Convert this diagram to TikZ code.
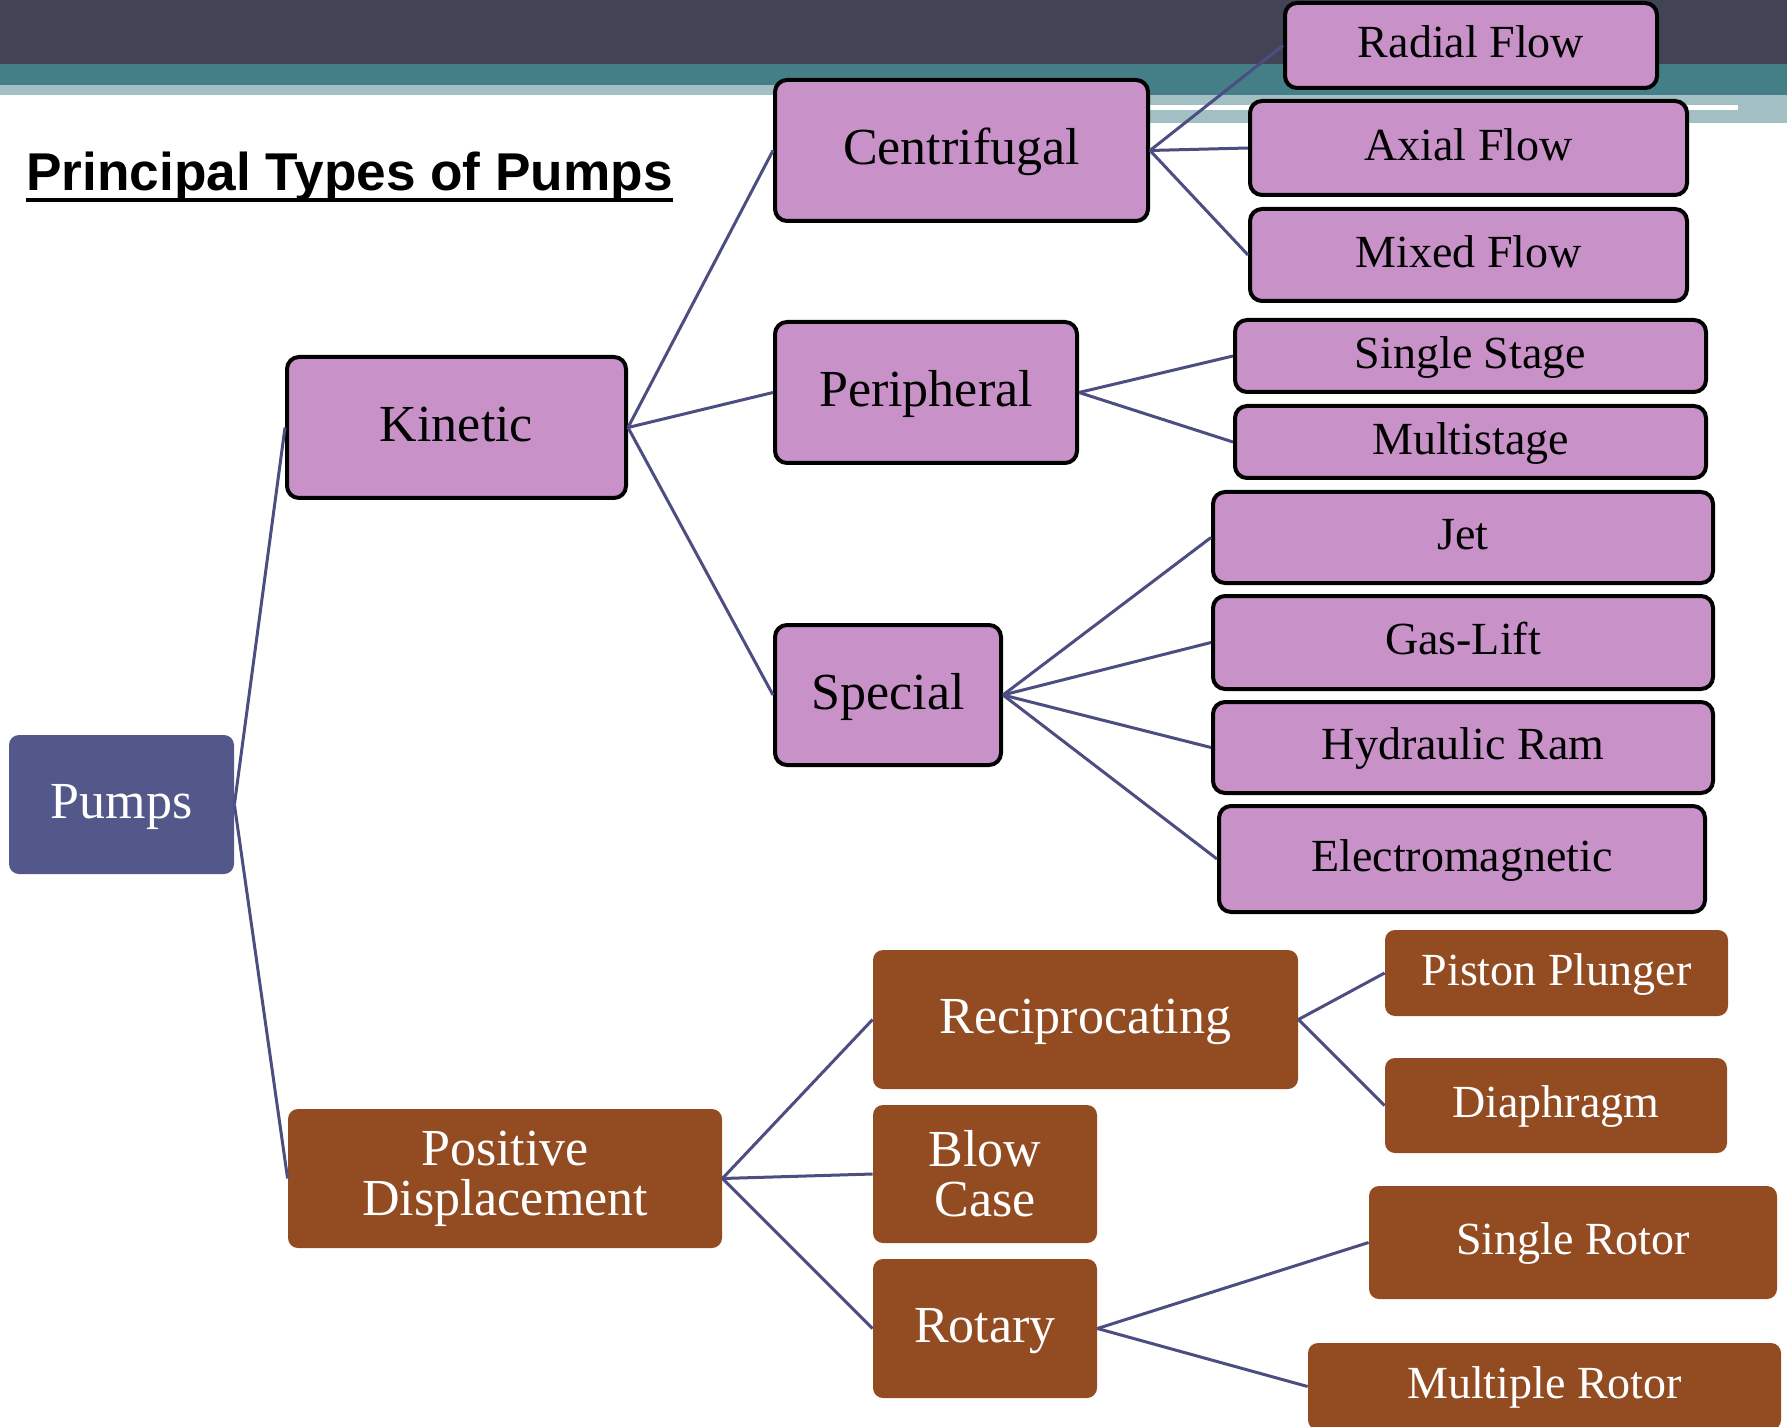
\documentclass[tikz,border=0pt]{standalone}
\usepackage{fontspec}
\setmainfont{Liberation Serif}
\newfontfamily\titlefont{Liberation Sans}
\usetikzlibrary{shapes}

\definecolor{bannerdark}{RGB}{66,68,86}
\definecolor{bannerteal}{RGB}{68,126,134}
\definecolor{bannerlight}{RGB}{162,192,196}
\definecolor{rootfill}{RGB}{84,87,138}
\definecolor{kinfill}{RGB}{200,145,200}
\definecolor{posfill}{RGB}{147,76,34}
\definecolor{linkcol}{RGB}{76,77,128}

\begin{document}
\begin{tikzpicture}[x=0.5pt,y=-0.5pt,
    every node/.style={inner sep=0pt, align=center},
    bigtxt/.style={font=\fontsize{26}{25}\selectfont, text height=19.2pt, text depth=5.2pt},
    smalltxt/.style={font=\fontsize{23}{24}\selectfont, text height=17pt, text depth=4.6pt},
    twoline/.style={text height=, text depth=},
    rootbox/.style={bigtxt, fill=rootfill, text=white, rounded corners=5pt},
    kinbox/.style={draw=black, line width=2pt, fill=kinfill, rounded corners=6pt},
    posbox/.style={fill=posfill, text=white, rounded corners=5pt},
    link/.style={draw=linkcol, line width=1.5pt}]
  \useasboundingbox (0,0) rectangle (1787,1427);
  \clip (0,0) rectangle (1787,1427);

  % banner
  \fill[bannerdark] (0,0) rectangle (1787,64);
  \fill[bannerteal] (0,64) rectangle (1100,85);
  \fill[bannerlight] (0,85) rectangle (1100,95);
  \fill[bannerteal] (1100,64) rectangle (1787,95);
  \fill[bannerlight] (1100,95) rectangle (1787,123);
  \fill[white] (1150,105) rectangle (1738,110);

  % title
  \node[anchor=base west, font=\titlefont\bfseries\fontsize{26.6}{30}\selectfont] (title) at (26,191) {Principal Types of Pumps};
  \draw[line width=2pt] ([yshift=-4.5pt]title.base west) -- ([yshift=-4.5pt]title.base east);

  % root
  \node[rootbox, minimum width=112.5pt, minimum height=69.5pt] (pumps) at (121.5,804.5) {Pumps};

  % kinetic branch
  \node[kinbox, bigtxt, minimum width=169.5pt, minimum height=70.5pt] (kinetic) at (456.5,427.5) {Kinetic};
  \node[kinbox, bigtxt, minimum width=186.5pt, minimum height=70.5pt] (centrifugal) at (961.5,150.5) {Centrifugal};
  \node[kinbox, bigtxt, minimum width=151pt, minimum height=70.5pt] (peripheral) at (926,392.5) {Peripheral};
  \node[kinbox, bigtxt, minimum width=113pt, minimum height=70pt] (special) at (888,695) {Special};

  \node[kinbox, smalltxt, minimum width=186pt, minimum height=42.5pt] (radial) at (1471,45.5) {Radial Flow};
  \node[kinbox, smalltxt, minimum width=218.5pt, minimum height=47pt] (axial) at (1468.5,148) {Axial Flow};
  \node[kinbox, smalltxt, minimum width=218.5pt, minimum height=46pt] (mixed) at (1468.5,255) {Mixed Flow};
  \node[kinbox, smalltxt, minimum width=235.5pt, minimum height=36pt] (singlestage) at (1470.5,356) {Single Stage};
  \node[kinbox, smalltxt, minimum width=235.5pt, minimum height=36pt] (multistage) at (1470.5,442) {Multistage};
  \node[kinbox, smalltxt, minimum width=250pt, minimum height=45.5pt] (jet) at (1463,537.5) {Jet};
  \node[kinbox, smalltxt, minimum width=250pt, minimum height=46.5pt] (gaslift) at (1463,642.5) {Gas-Lift};
  \node[kinbox, smalltxt, minimum width=250pt, minimum height=45.5pt] (hydram) at (1463,747.5) {Hydraulic Ram};
  \node[kinbox, smalltxt, minimum width=243pt, minimum height=53pt] (electro) at (1462,859) {Electromagnetic};

  % positive displacement branch
  \node[posbox, bigtxt, twoline, minimum width=217pt, minimum height=69.5pt] (posdisp) at (505,1178.5) {Positive\\Displacement};
  \node[posbox, bigtxt, minimum width=212.5pt, minimum height=69.5pt] (recip) at (1085.5,1019.5) {Reciprocating};
  \node[posbox, bigtxt, twoline, minimum width=112pt, minimum height=69pt] (blowcase) at (985,1174) {Blow\\Case};
  \node[posbox, bigtxt, minimum width=112pt, minimum height=69.5pt] (rotary) at (985,1328.5) {Rotary};

  \node[posbox, smalltxt, minimum width=171.5pt, minimum height=43pt] (piston) at (1556.5,973) {Piston Plunger};
  \node[posbox, smalltxt, minimum width=171pt, minimum height=47.5pt] (diaphragm) at (1556,1105.5) {Diaphragm};
  \node[posbox, smalltxt, minimum width=204pt, minimum height=56.5pt] (singlerotor) at (1573,1242.5) {Single Rotor};
  \node[posbox, smalltxt, minimum width=236.5pt, minimum height=43.5pt] (multirotor) at (1544.5,1386.5) {Multiple Rotor};

  % connectors
  \draw[link] (pumps.east) -- (kinetic.west);
  \draw[link] (pumps.east) -- (posdisp.west);
  \draw[link] (kinetic.east) -- (centrifugal.west);
  \draw[link] (kinetic.east) -- (peripheral.west);
  \draw[link] (kinetic.east) -- (special.west);
  \draw[link] (centrifugal.east) -- (radial.west);
  \draw[link] (centrifugal.east) -- (axial.west);
  \draw[link] (centrifugal.east) -- (mixed.west);
  \draw[link] (peripheral.east) -- (singlestage.west);
  \draw[link] (peripheral.east) -- (multistage.west);
  \draw[link] (special.east) -- (jet.west);
  \draw[link] (special.east) -- (gaslift.west);
  \draw[link] (special.east) -- (hydram.west);
  \draw[link] (special.east) -- (electro.west);
  \draw[link] (posdisp.east) -- (recip.west);
  \draw[link] (posdisp.east) -- (blowcase.west);
  \draw[link] (posdisp.east) -- (rotary.west);
  \draw[link] (recip.east) -- (piston.west);
  \draw[link] (recip.east) -- (diaphragm.west);
  \draw[link] (rotary.east) -- (singlerotor.west);
  \draw[link] (rotary.east) -- (multirotor.west);
\end{tikzpicture}
\end{document}
